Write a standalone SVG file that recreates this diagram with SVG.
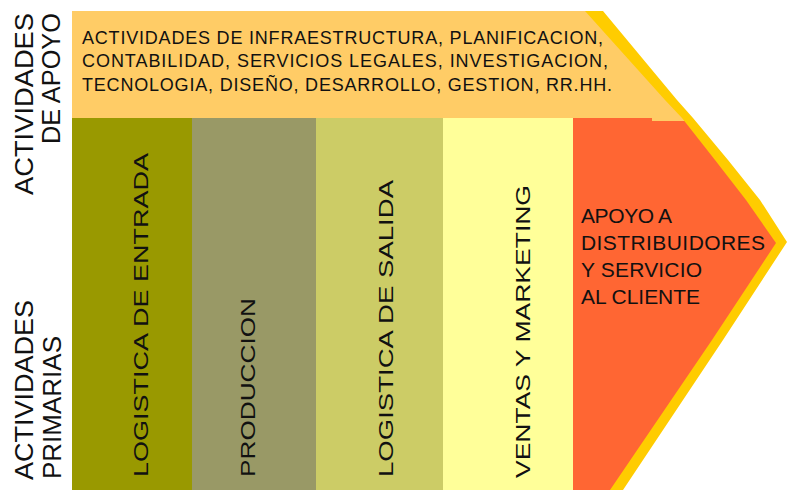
<svg xmlns="http://www.w3.org/2000/svg" width="788" height="490" viewBox="0 0 788 490">
<style>
  .t { font-family: "Liberation Sans", Arial, sans-serif; fill: #111; }
  .side { font-size: 25px; }
  .band { font-size: 18px; }
  .col { font-size: 21px; }
  .c5 { font-size: 21px; }
</style>
<defs>
  <clipPath id="inner">
    <polygon points="72,11 585,11 665,100 682,118 715,160 746,200 776,243 712,340 610,490 72,490"/>
  </clipPath>
</defs>
<rect x="0" y="0" width="788" height="490" fill="#ffffff"/>

<g id="border">
  <polygon points="72,11 603,11 677,100 693,118 728,160 760,200 787,242 723,340 623,490 72,490" fill="#FFCC00"/>
</g>

<g clip-path="url(#inner)">
  <g id="apoyo-band">
    <polygon points="72,11 788,11 788,121 652,121 652,118 72,118" fill="#FFCC66"/>
  </g>
  <g id="logistica-entrada">
    <rect x="72" y="118" width="120" height="372" fill="#999900"/>
  </g>
  <g id="produccion">
    <rect x="192" y="118" width="124" height="372" fill="#999966"/>
  </g>
  <g id="logistica-salida">
    <rect x="316" y="118" width="127" height="372" fill="#CCCC66"/>
  </g>
  <g id="ventas-marketing">
    <rect x="443" y="118" width="130" height="372" fill="#FFFF99"/>
  </g>
  <g id="apoyo-distribuidores">
    <polygon points="573,118 652,118 652,121 788,121 788,490 573,490" fill="#FF6633"/>
  </g>
</g>

<g id="labels-apoyo-band">
  <text class="t band" x="82" y="44" textLength="521" lengthAdjust="spacing">ACTIVIDADES DE INFRAESTRUCTURA, PLANIFICACION,</text>
  <text class="t band" x="82" y="67" textLength="526" lengthAdjust="spacing">CONTABILIDAD, SERVICIOS LEGALES, INVESTIGACION,</text>
  <text class="t band" x="82" y="91" textLength="530" lengthAdjust="spacing">TECNOLOGIA, DISEÑO, DESARROLLO, GESTION, RR.HH.</text>
</g>

<g id="side-apoyo">
  <text class="t side" transform="translate(33,195) rotate(-90)" textLength="182" lengthAdjust="spacingAndGlyphs">ACTIVIDADES</text>
  <text class="t side" transform="translate(60,144) rotate(-90)" textLength="131" lengthAdjust="spacingAndGlyphs">DE APOYO</text>
</g>

<g id="side-primarias">
  <text class="t side" transform="translate(33,480) rotate(-90)" textLength="180" lengthAdjust="spacingAndGlyphs">ACTIVIDADES</text>
  <text class="t side" transform="translate(61,479) rotate(-90)" textLength="143" lengthAdjust="spacingAndGlyphs">PRIMARIAS</text>
</g>

<g id="column-labels">
  <text class="t col" transform="translate(148,477) rotate(-90)" textLength="324" lengthAdjust="spacingAndGlyphs">LOGISTICA DE ENTRADA</text>
  <text class="t col" transform="translate(255,477) rotate(-90)" textLength="179" lengthAdjust="spacingAndGlyphs">PRODUCCION</text>
  <text class="t col" transform="translate(393,477) rotate(-90)" textLength="297" lengthAdjust="spacingAndGlyphs">LOGISTICA DE SALIDA</text>
  <text class="t col" transform="translate(530,478) rotate(-90)" textLength="293" lengthAdjust="spacingAndGlyphs">VENTAS Y MARKETING</text>
</g>

<g id="label-apoyo-distribuidores">
  <text class="t c5" x="581" y="223" textLength="91" lengthAdjust="spacing">APOYO A</text>
  <text class="t c5" x="581" y="250" textLength="184" lengthAdjust="spacing">DISTRIBUIDORES</text>
  <text class="t c5" x="581" y="277" textLength="121" lengthAdjust="spacing">Y SERVICIO</text>
  <text class="t c5" x="581" y="304" textLength="119" lengthAdjust="spacing">AL CLIENTE</text>
</g>
</svg>
